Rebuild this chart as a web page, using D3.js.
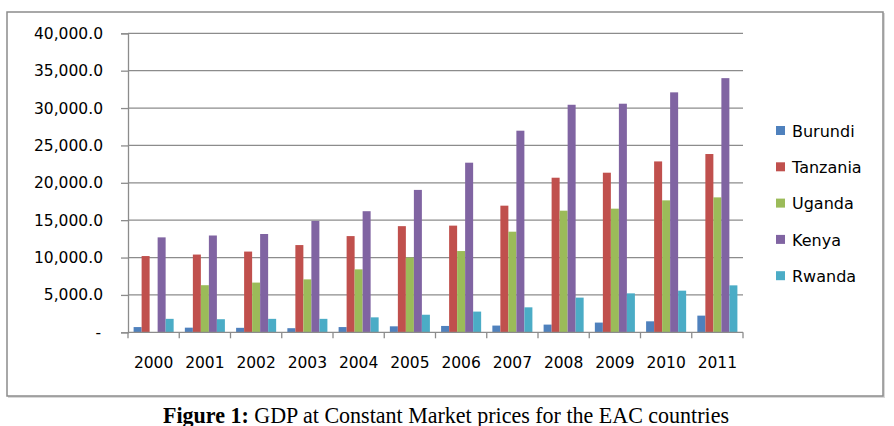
<!DOCTYPE html>
<html>
<head>
<meta charset="utf-8">
<script src="https://cdn.jsdelivr.net/npm/d3@7"></script>
<style>
  body { margin: 0; background: #fff; }
  text { font-family: "DejaVu Sans", sans-serif; }
</style>
</head>
<body>
<svg width="894" height="426"></svg>
<script>
var years = ["2000","2001","2002","2003","2004","2005","2006","2007","2008","2009","2010","2011"];
var countries = ["Burundi","Tanzania","Uganda","Kenya","Rwanda"];
var colors = ["#4f81bd","#c0504d","#9bbb59","#8064a2","#4bacc6"];

// GDP values (null = no bar)
var burundi  = [700, 620, 600, 550, 700, 800, 850, 900, 1030, 1300, 1470, 2230];
var tanzania = [10200, 10400, 10800, 11670, 12870, 14200, 14270, 16940, 20680, 21350, 22860, 23850];
var uganda   = [null, 6300, 6650, 7080, 8420, 10000, 10870, 13460, 16270, 16540, 17650, 18050];
var kenya    = [12700, 12950, 13150, 14900, 16200, 19050, 22690, 26970, 30440, 30580, 32100, 34000];
var rwanda   = [1800, 1750, 1800, 1800, 2000, 2350, 2770, 3340, 4640, 5210, 5570, 6280];
var series = [burundi, tanzania, uganda, kenya, rwanda];

var yTicks = [0, 5000, 10000, 15000, 20000, 25000, 30000, 35000, 40000];

var svg = d3.select("svg");

// outer chart frame
svg.append("rect")
  .attr("x", 8).attr("y", 13).attr("width", 877).attr("height", 385)
  .attr("fill", "#d9d9d9");
svg.append("rect")
  .attr("x", 7).attr("y", 12).attr("width", 876).attr("height", 384)
  .attr("fill", "#fff").attr("stroke", "#8c8c8c").attr("stroke-width", 1.5);

var plotLeft = 128, plotTop = 33.3, width = 615, height = 299;

var x0 = d3.scaleBand().domain(years).range([0, width]);
var x1 = d3.scaleBand().domain(countries).range([0, x0.bandwidth()]).paddingOuter(0.7);
var y = d3.scaleLinear().domain([0, 40000]).range([height, 0]);

var g = svg.append("g").attr("transform", "translate(" + plotLeft + "," + plotTop + ")");

// gridlines
g.selectAll(".grid")
  .data(yTicks.slice(1))
  .enter().append("line")
  .attr("x1", 0).attr("x2", width)
  .attr("y1", function(d) { return y(d); })
  .attr("y2", function(d) { return y(d); })
  .attr("stroke", "#8c8c8c").attr("stroke-width", 1.3);

// y axis
var yAxis = g.append("g")
  .call(d3.axisLeft(y).tickValues(yTicks).tickSize(7)
    .tickFormat(function(d) { return d === 0 ? "-" : d3.format(",.1f")(d); }));
yAxis.select(".domain").attr("stroke", "#8c8c8c").attr("stroke-width", 1.3);
yAxis.selectAll(".tick line").attr("stroke", "#8c8c8c").attr("stroke-width", 1.3);
yAxis.selectAll("text")
  .attr("font-family", "DejaVu Sans").attr("font-size", 15.5).attr("fill", "#000")
  .attr("x", function(d) { return d === 0 ? -27 : -25; });

// bars
var groups = g.selectAll(".year")
  .data(years)
  .enter().append("g")
  .attr("transform", function(d) { return "translate(" + x0(d) + ",0)"; });

groups.selectAll("rect")
  .data(function(d, i) {
    return countries.map(function(c, k) { return { c: c, k: k, v: series[k][i] }; })
      .filter(function(e) { return e.v != null; });
  })
  .enter().append("rect")
  .attr("x", function(d) { return x1(d.c); })
  .attr("width", x1.bandwidth())
  .attr("y", function(d) { return y(d.v); })
  .attr("height", function(d) { return height - y(d.v); })
  .attr("fill", function(d) { return colors[d.k]; });

// x axis
var xAxis = g.append("g").attr("transform", "translate(0," + height + ")");
xAxis.append("line")
  .attr("x1", 0).attr("x2", width)
  .attr("stroke", "#8c8c8c").attr("stroke-width", 1.3);
xAxis.selectAll(".xtick")
  .data(d3.range(years.length + 1))
  .enter().append("line")
  .attr("x1", function(i) { return i * x0.step(); })
  .attr("x2", function(i) { return i * x0.step(); })
  .attr("y1", 0).attr("y2", 6)
  .attr("stroke", "#8c8c8c").attr("stroke-width", 1.3);
xAxis.selectAll(".xlabel")
  .data(years)
  .enter().append("text")
  .attr("x", function(d) { return x0(d) + x0.bandwidth() / 2; })
  .attr("y", 36)
  .attr("text-anchor", "middle")
  .attr("font-size", 15.5)
  .text(function(d) { return d; });

// legend
var legend = svg.append("g").attr("transform", "translate(776,131)");
var items = legend.selectAll("g")
  .data(countries)
  .enter().append("g")
  .attr("transform", function(d, i) { return "translate(0," + i * 36.3 + ")"; });
items.append("rect")
  .attr("x", 0).attr("y", -5).attr("width", 9).attr("height", 9)
  .attr("fill", function(d, i) { return colors[i]; });
items.append("text")
  .attr("x", 16).attr("y", 0).attr("dy", "0.35em")
  .attr("font-size", 16)
  .text(function(d) { return d; });

// caption
var cap = svg.append("text")
  .attr("x", 163).attr("y", 423)
  .attr("font-family", "Liberation Serif").attr("font-size", 22.5)
  .attr("textLength", 566).attr("lengthAdjust", "spacingAndGlyphs");
cap.append("tspan").attr("font-weight", "bold").attr("font-family", "Liberation Serif").text("Figure 1:");
cap.append("tspan").attr("font-family", "Liberation Serif").text(" GDP at Constant Market prices for the EAC countries");
</script>
</body>
</html>
